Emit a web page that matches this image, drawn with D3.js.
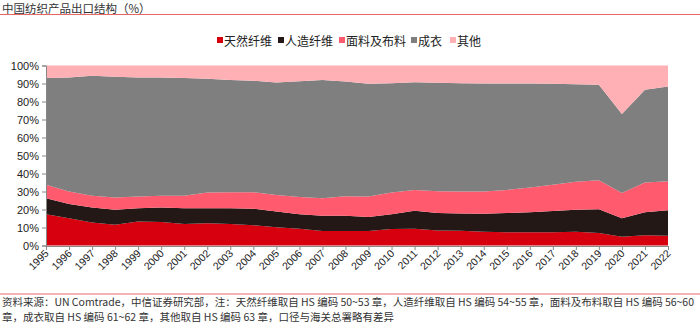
<!DOCTYPE html>
<html><head><meta charset="utf-8">
<script src="https://cdn.jsdelivr.net/npm/d3@7/dist/d3.min.js"></script>
<style>
body{margin:0;background:#fff;font-family:"Noto Sans CJK SC","Liberation Sans",Arial,sans-serif;}
svg text{font-family:"Liberation Sans",Arial,"Noto Sans CJK SC",sans-serif;}
.cjk{font-family:"Noto Sans CJK SC",sans-serif;}
</style></head>
<body>
<svg id="c" width="700" height="328"></svg>
<script>
const years = ["1995","1996","1997","1998","1999","2000","2001","2002","2003","2004","2005","2006","2007","2008","2009","2010","2011","2012","2013","2014","2015","2016","2017","2018","2019","2020","2021","2022"];
const natural   = [17.4,15.2,12.8,11.5,13.3,13.0,12.0,12.4,11.9,11.3,10.2,9.3,8.1,8.1,8.1,9.1,9.3,8.3,8.2,7.6,7.4,7.4,7.4,7.6,7.0,4.8,5.7,5.4];
const manmade   = [8.9,7.8,8.3,8.3,7.4,8.1,8.7,8.3,8.8,9.1,8.7,8.1,8.4,8.4,7.8,8.3,10.0,9.8,9.6,10.0,10.6,11.1,11.7,12.2,13.2,10.4,12.8,14.2];
const fabric    = [7.4,7.0,6.5,6.9,6.5,6.5,6.9,8.7,8.9,9.2,9.2,9.5,9.8,10.9,11.3,12.0,11.6,12.1,12.2,12.4,12.9,13.7,14.6,15.6,16.1,13.9,16.5,16.1];
const apparel   = [59.3,63.3,66.7,67.0,66.1,65.7,65.4,63.2,62.3,61.9,62.5,64.4,65.7,63.7,62.6,60.8,59.8,60.2,60.2,60.0,59.1,57.8,56.1,54.2,53.0,44.0,51.5,52.6];
const others    = [7.0,6.7,5.7,6.3,6.7,6.7,7.0,7.4,8.1,8.5,9.4,8.7,8.0,8.9,10.2,9.8,9.3,9.6,9.8,10.0,10.0,10.0,10.2,10.4,10.7,26.9,13.5,11.7];
const seriesNames = ["天然纤维","人造纤维","面料及布料","成衣","其他"];
const colors = ["#d7000f","#231815","#ff5a6e","#7f7f7f","#ffb0b5"];
const yTicks = [0,10,20,30,40,50,60,70,80,90,100];

const arrs = [natural, manmade, fabric, apparel, others];
const rows = years.map((y,i)=>{
  const o = {year:y};
  const tot = arrs.reduce((s,a)=>s+a[i],0);
  seriesNames.forEach((n,k)=>o[n]=arrs[k][i]/tot*100);
  return o;
});

const svg = d3.select("#c");
const x = d3.scalePoint().domain(years).range([46,668]);
const y = d3.scaleLinear().domain([0,100]).range([245.5,65.5]);

const stack = d3.stack().keys(seriesNames);
const layers = stack(rows);
const area = d3.area().x(d=>x(d.data.year)).y0(d=>y(d[0])).y1(d=>y(d[1]));
svg.append("g").selectAll("path").data(layers).join("path")
  .attr("d",area).attr("fill",(d,i)=>colors[i]);

// y axis
const yAxis = d3.axisLeft(y).tickValues(yTicks).tickSize(4).tickFormat(d=>d+"%");
const gy = svg.append("g").attr("transform","translate(46,0)").call(yAxis);
gy.select(".domain").attr("stroke","#888");
gy.selectAll(".tick line").attr("stroke","#888");
gy.selectAll("text").attr("font-size",11).attr("fill","#222").attr("x",-7);

// x axis
const xAxis = d3.axisBottom(x).tickSize(4).tickSizeOuter(0);
const gx = svg.append("g").attr("transform","translate(0,246)").call(xAxis);
gx.select(".domain").attr("stroke","#888");
gx.selectAll(".tick line").attr("stroke","#888");
gx.selectAll("text").attr("font-size",10.5).attr("fill","#222")
  .attr("text-anchor","end").attr("dy",0).attr("y",0)
  .attr("transform","translate(3,8) rotate(-45)");

// title
svg.append("text").attr("class","cjk").attr("x",2).attr("y",12.5).attr("font-size",11.5).attr("fill","#333").text("中国纺织产品出口结构（%）");
svg.append("line").attr("x1",0).attr("x2",700).attr("y1",14.5).attr("y2",14.5).attr("stroke","#e8666a").attr("stroke-width",1);

// legend
const legX = [217,278,339,411,450];
const lg = svg.append("g");
seriesNames.forEach((n,i)=>{
  lg.append("rect").attr("x",legX[i]).attr("y",37).attr("width",6).attr("height",6).attr("fill",colors[i]);
  lg.append("text").attr("class","cjk").attr("x",legX[i]+7).attr("y",45.5).attr("font-size",12).attr("fill","#222").text(n);
});

// footer
svg.append("line").attr("x1",0).attr("x2",700).attr("y1",294).attr("y2",294).attr("stroke","#e8666a").attr("stroke-width",1);
svg.append("text").attr("class","cjk").attr("x",2).attr("y",306).attr("font-size",10.5).attr("fill","#333").attr("textLength",692)
  .text("资料来源：UN Comtrade，中信证券研究部，注：天然纤维取自 HS 编码 50~53 章，人造纤维取自 HS 编码 54~55 章，面料及布料取自 HS 编码 56~60");
svg.append("text").attr("class","cjk").attr("x",2).attr("y",321).attr("font-size",10.5).attr("fill","#333")
  .text("章，成衣取自 HS 编码 61~62 章，其他取自 HS 编码 63 章，口径与海关总署略有差异");
</script>
</body></html>
